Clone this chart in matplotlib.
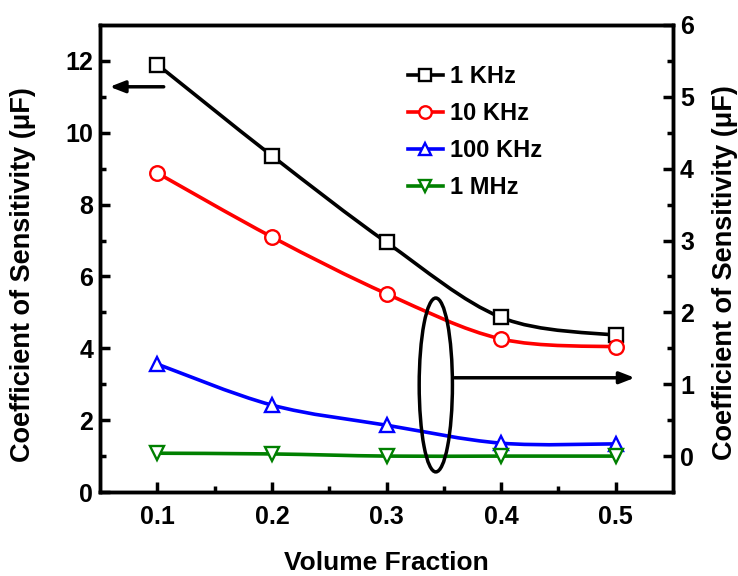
import matplotlib
matplotlib.use('Agg')
import matplotlib.pyplot as plt
from matplotlib.path import Path
from matplotlib.patches import PathPatch, Ellipse
from matplotlib.lines import Line2D
import numpy as np

plt.rcParams['font.family'] = ['Liberation Sans', 'DejaVu Sans']

fraction = [0.1, 0.2, 0.3, 0.4, 0.5]
khz1 = [11.9, 9.36, 6.95, 4.86, 4.36]      # left axis
khz10 = [3.94, 3.05, 2.26, 1.63, 1.52]     # right axis
khz100 = [1.28, 0.71, 0.43, 0.18, 0.17]    # right axis
mhz1 = [0.04, 0.03, 0.0, 0.0, 0.0]         # right axis
labels = ['1 KHz', '10 KHz', '100 KHz', '1 MHz']
colors = ['black', 'red', 'blue', 'green']
markers = ['s', 'o', '^', 'v']


def smooth_path(x, y):
    # catmull-rom through the points, drawn as cubic bezier segments
    p = np.column_stack([x, y])
    verts = [p[0]]
    codes = [Path.MOVETO]
    n = len(p)
    for i in range(n - 1):
        p0 = p[i - 1] if i > 0 else p[i]
        p3 = p[i + 2] if i + 2 < n else p[i + 1]
        c1 = p[i] + (p[i + 1] - p0) / 6
        c2 = p[i + 1] - (p3 - p[i]) / 6
        verts += [c1, c2, p[i + 1]]
        codes += [Path.CURVE4] * 3
    return Path(verts, codes)


fig = plt.figure(figsize=(7.38, 5.76), dpi=100)
ax = fig.add_axes([0.1355, 0.1458, 0.7765, 0.8108])
ax2 = ax.twinx()

series = [(ax, khz1), (ax2, khz10), (ax2, khz100), (ax2, mhz1)]
handles = []
for (a, vals), lab, c, m in zip(series, labels, colors, markers):
    a.add_patch(PathPatch(smooth_path(fraction, vals), fc='none', ec=c, lw=2.6, zorder=3))
    a.plot(fraction, vals, ls='none', marker=m, ms=10.5, mfc='white', mec=c, mew=1.7, zorder=4)
    handles.append(Line2D([], [], color=c, lw=2.6, marker=m, ms=9, mfc='white', mec=c, mew=1.7))

ax.set_xlim(0.05, 0.55)
ax.set_ylim(0, 13)
ax2.set_ylim(-0.5, 6)
ax.set_xticks([0.1, 0.2, 0.3, 0.4, 0.5])
ax.set_xticks([0.15, 0.25, 0.35, 0.45], minor=True)
ax.set_yticks(range(0, 13, 2))
ax.set_yticks(range(1, 13, 2), minor=True)
ax2.set_yticks(range(0, 7))
ax2.set_yticks(np.arange(0.5, 6, 1), minor=True)

for a in (ax, ax2):
    for s in a.spines.values():
        s.set_linewidth(2.5)
    a.tick_params(which='major', direction='in', length=7, width=2.5, labelsize=18)
    a.tick_params(which='minor', direction='in', length=4, width=2.5)
    for t in a.get_xticklabels() + a.get_yticklabels():
        t.set_fontweight('bold')
ax.tick_params(axis='x', pad=9)
ax.tick_params(axis='y', pad=5)
ax2.tick_params(axis='y', pad=5)

ax.set_xlabel('Volume Fraction', fontsize=19, fontweight='bold', labelpad=16)
ax.set_ylabel('Coefficient of Sensitivity (μF)', fontsize=19.5, fontweight='bold')
ax2.set_ylabel('Coefficient of Sensitivity (μF)', fontsize=19.5, fontweight='bold')
ax.yaxis.set_label_coords(-0.112, 0.465)
ax2.yaxis.set_label_coords(1.068, 0.47)

ax.legend(handles, labels, loc='upper left', bbox_to_anchor=(0.5, 0.96), frameon=False,
          prop={'size': 17, 'weight': 'bold'}, handlelength=1.5, handletextpad=0.3,
          labelspacing=0.6)

# arrow pointing to the left axis
ax.annotate('', xy=(0.056, 11.28), xytext=(0.108, 11.28),
            arrowprops=dict(arrowstyle='-|>,head_length=0.9,head_width=0.35', color='black', lw=2.5))
# ellipse and arrow pointing to the right axis
ax2.add_patch(Ellipse((0.343, 0.99), 0.029, 2.42, fc='none', ec='black', lw=2.5, zorder=5))
ax2.annotate('', xy=(0.519, 1.09), xytext=(0.357, 1.09),
             arrowprops=dict(arrowstyle='-|>,head_length=0.9,head_width=0.35', color='black', lw=2.5))

fig.savefig('out.png', dpi=100)
